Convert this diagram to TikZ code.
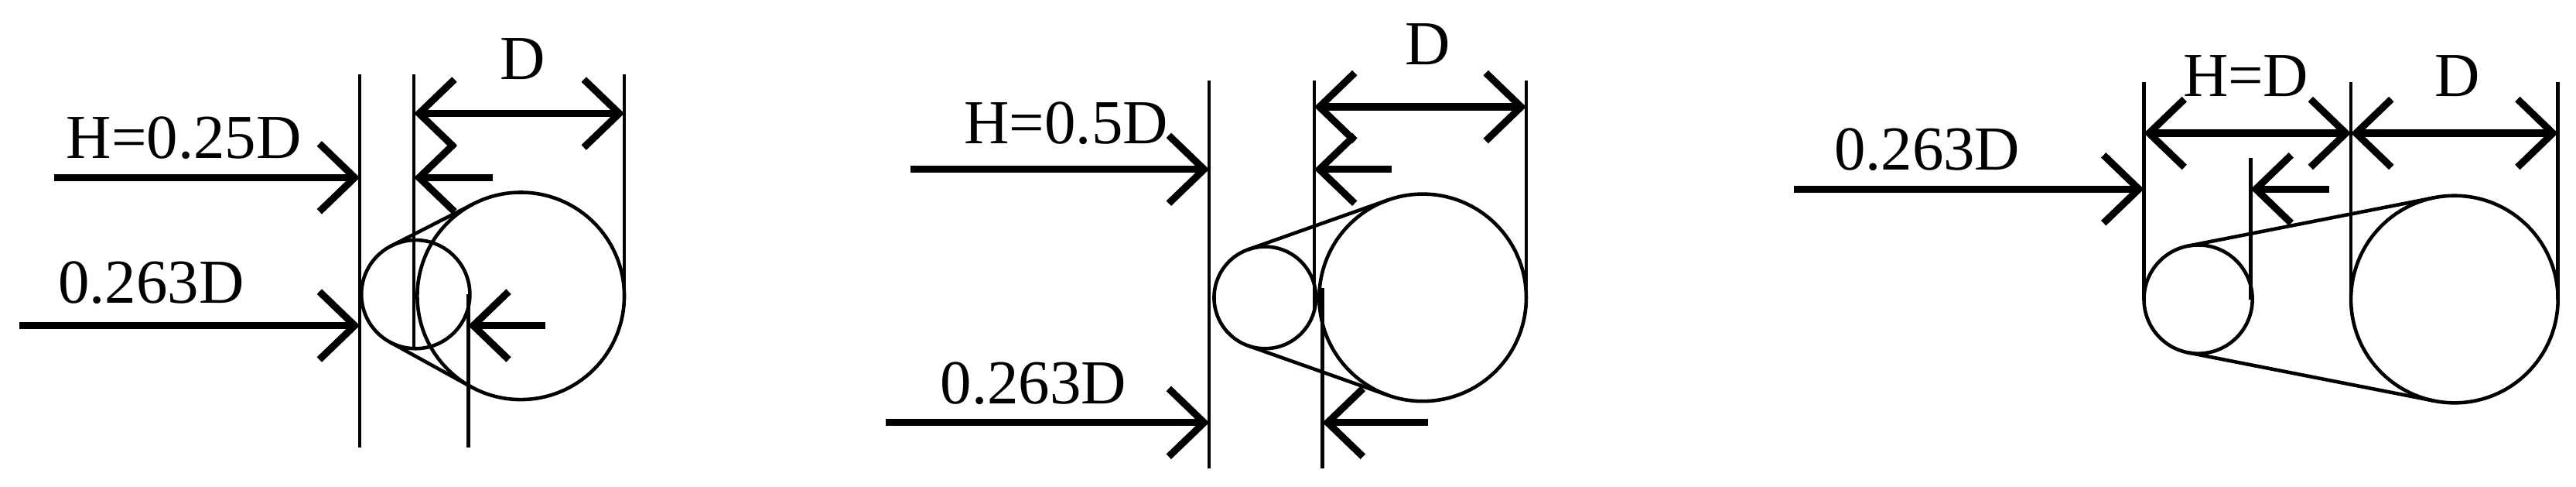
\documentclass[tikz,border=0pt]{standalone}
\usepackage{fontspec}
\setmainfont{Liberation Serif}
\usetikzlibrary{arrows.meta,calc}
\begin{document}
\begin{tikzpicture}[x=0.02124cm,y=-0.02124cm,
  thin line/.style={line width=1.3pt},
  dim/.style={line width=2.6pt,-{Straight Barb[length=13pt,width=25pt,line width=2.6pt]}},
  dimboth/.style={line width=2.6pt,{Straight Barb[length=13pt,width=25pt,line width=2.6pt]}-{Straight Barb[length=13pt,width=25pt,line width=2.6pt]}},
  lbl/.style={font=\fontsize{23}{25}\selectfont,inner sep=0pt}]
\useasboundingbox (0,0) rectangle (1568,296);
% ---------- Panel 1
\coordinate (a1) at (253,179); \coordinate (b1) at (317,180);
\draw[thin line] (a1) circle (33); \draw[thin line] (b1) circle (63);
\draw[thin line] ($(a1)+(-118:33)$) -- ($(b1)+(-118:63)$);
\draw[thin line] ($(a1)+(118:33)$) -- ($(b1)+(118:63)$);
\draw[thin line] (219,45) -- (219,272);
\draw[thin line] (252,45) -- (252,211);
\draw[thin line] (285,179) -- (285,272);
\draw[thin line] (380,45) -- (380,180);
\draw[dimboth] (252,69) -- (380,69);
\node[lbl] (d1) at (318,36) {D};
\draw[dim] (33,108) -- (219,108);
\node[lbl] (h1) at (112,84) {H=0.25D};
\draw[dim] (300,108) -- (252,108);
\draw[dim] (12,198) -- (219,198);
\node[lbl] (r1) at (92,172) {0.263D};
\draw[dim] (332,198) -- (285,198);
% ---------- Panel 2
\coordinate (a2) at (770,181); \coordinate (b2) at (866,181);
\draw[thin line] (a2) circle (31); \draw[thin line] (b2) circle (63);
\draw[thin line] ($(a2)+(-109.5:31)$) -- ($(b2)+(-109.5:63)$);
\draw[thin line] ($(a2)+(109.5:31)$) -- ($(b2)+(109.5:63)$);
\draw[thin line] (736,49) -- (736,285);
\draw[thin line] (800,49) -- (800,188);
\draw[thin line] (805,175) -- (805,285);
\draw[thin line] (929,49) -- (929,181);
\draw[dimboth] (800,65) -- (929,65);
\node[lbl] (d2) at (869,27) {D};
\draw[dim] (554,103) -- (736,103);
\node[lbl] (h2) at (649,75) {H=0.5D};
\draw[dim] (847,103) -- (800,103);
\draw[dim] (539,257) -- (736,257);
\node[lbl] (r2) at (629,233) {0.263D};
\draw[dim] (869,257) -- (805,257);
% ---------- Panel 3
\coordinate (a3) at (1338,182); \coordinate (b3) at (1494,182);
\draw[thin line] (a3) circle (33); \draw[thin line] (b3) circle (63);
\draw[thin line] ($(a3)+(-101.5:33)$) -- ($(b3)+(-101.5:63)$);
\draw[thin line] ($(a3)+(101.5:33)$) -- ($(b3)+(101.5:63)$);
\draw[thin line] (1305,50) -- (1305,182);
\draw[thin line] (1431,50) -- (1431,182);
\draw[thin line] (1557,50) -- (1557,182);
\draw[thin line] (1370,96) -- (1370,182);
\draw[dimboth] (1305,81) -- (1431,81);
\draw[dimboth] (1431,81) -- (1557,81);
\node[lbl] (h3) at (1367,46) {H=D};
\node[lbl] (d3) at (1496,46) {D};
\draw[dim] (1092,115) -- (1305,115);
\node[lbl] (r3) at (1173,91) {0.263D};
\draw[dim] (1418,115) -- (1370,115);
\end{tikzpicture}
\end{document}
